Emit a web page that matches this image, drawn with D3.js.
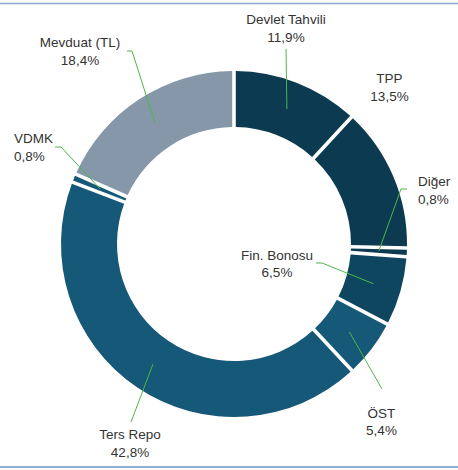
<!DOCTYPE html>
<html>
<head>
<meta charset="utf-8">
<script src="https://cdn.jsdelivr.net/npm/d3@7"></script>
<style>
  body { margin: 0; background: #fff; }
  svg { display: block; }
  text { font-family: "Liberation Sans", Arial, sans-serif; font-size: 13.5px; fill: #333; }
</style>
</head>
<body>
<svg id="chart" width="458" height="470"></svg>
<script>
// slices, clockwise from 12 o'clock
const categories = ["Devlet Tahvili", "TPP", "Diğer", "Fin. Bonosu", "ÖST", "Ters Repo", "VDMK", "Mevduat (TL)"];
const shares = [11.9, 13.5, 0.8, 6.5, 5.4, 42.8, 0.8, 18.4];
const shareLabels = ["11,9%", "13,5%", "0,8%", "6,5%", "5,4%", "42,8%", "0,8%", "18,4%"];
const colors = ["#0b3a51", "#0b3a51", "#0b3a51", "#0e465f", "#155877", "#155877", "#155877", "#8597a8"];

// label placement (text anchor point + where the leader starts)
const labelLayout = [
    { x: 286, y: 24, anchor: "middle", leader: [[286, 49]] },
    { x: 389.5, y: 83, anchor: "middle", leader: null },
    { x: 418, y: 186, anchor: "start", leader: [[407, 189], [401, 189]] },
    { x: 277, y: 259.5, anchor: "middle", leader: [[316, 263], [322, 263]] },
    { x: 381.5, y: 417.5, anchor: "middle", leader: [[382, 389]] },
    { x: 130, y: 439, anchor: "middle", leader: [[131, 422]] },
    { x: 14, y: 143, anchor: "start", leader: [[55, 147], [61, 147]] },
    { x: 80, y: 47, anchor: "middle", leader: [[127, 51], [132, 51]] }
];

const cx = 234, cy = 244;
const outerR = 173, innerR = 117;

const svg = d3.select("#chart");

// frame lines top and bottom
svg.append("line").attr("x1", 0).attr("x2", 458).attr("y1", 3.5).attr("y2", 3.5)
    .attr("stroke", "#86a9cd").attr("stroke-width", 1.5);
svg.append("line").attr("x1", 0).attr("x2", 458).attr("y1", 467).attr("y2", 467)
    .attr("stroke", "#8fb0d2").attr("stroke-width", 2);

const data = categories.map((c, i) => ({ name: c, value: shares[i], label: shareLabels[i], color: colors[i], layout: labelLayout[i] }));

const pie = d3.pie().value(d => d.value).sort(null);
const arcs = pie(data);

const arc = d3.arc()
    .innerRadius(innerR)
    .outerRadius(outerR)
    .padRadius(145)
    .padAngle(3.6 / 145);

const g = svg.append("g").attr("transform", `translate(${cx},${cy})`);

g.selectAll("path.slice")
    .data(arcs)
    .enter()
    .append("path")
    .attr("class", "slice")
    .attr("d", arc)
    .attr("fill", d => d.data.color);

// leader lines from label to slice centroid
const line = d3.line();
svg.selectAll("path.leader")
    .data(arcs.filter(d => d.data.layout.leader))
    .enter()
    .append("path")
    .attr("class", "leader")
    .attr("d", d => {
        const c = arc.centroid(d);
        return line(d.data.layout.leader.concat([[c[0] + cx, c[1] + cy]]));
    })
    .attr("fill", "none")
    .attr("stroke", "#4db848")
    .attr("stroke-width", 1);

const labels = svg.selectAll("text.lbl")
    .data(data)
    .enter()
    .append("text")
    .attr("class", "lbl")
    .attr("text-anchor", d => d.layout.anchor)
    .attr("x", d => d.layout.x)
    .attr("y", d => d.layout.y);

labels.append("tspan").attr("x", d => d.layout.x).text(d => d.name);
labels.append("tspan").attr("x", d => d.layout.x).attr("dy", 17.5).text(d => d.label);
</script>
</body>
</html>
